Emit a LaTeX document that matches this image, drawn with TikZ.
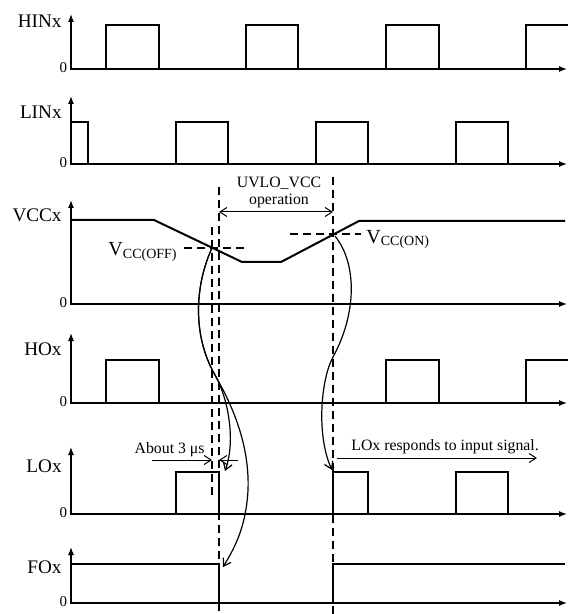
\documentclass[tikz,border=0pt]{standalone}
\usepackage{fontspec}
\setmainfont{Liberation Serif}
\usetikzlibrary{arrows.meta}

\begin{document}
\begin{tikzpicture}[x=0.5pt,y=-0.5pt,
        sig/.style={line width=1pt},
        axisline/.style={line width=0.6pt,{Latex[length=4pt,width=3pt]}-{Latex[length=4pt,width=3pt]}},
        guide/.style={line width=0.6pt,dash pattern=on 4pt off 2.5pt},
        cause/.style={line width=0.6pt,-{Straight Barb[length=3.5pt,width=4.5pt]}},
        dimarrow/.style={line width=0.5pt,-{Straight Barb[length=3.5pt,width=4.5pt]}},
        lbl/.style={anchor=east,inner sep=0pt,font=\fontsize{9.6}{11}\selectfont},
        zero/.style={anchor=east,inner sep=0pt,font=\fontsize{7.5}{9}\selectfont},
        note/.style={inner sep=0pt,font=\fontsize{7.9}{9}\selectfont}]
            \useasboundingbox (0,0) rectangle (571,614);

            % axes
            \draw[axisline] (71,14) |- (567,69);
            \draw[axisline] (71,96) |- (567,164);
            \draw[axisline] (71,200) |- (567,304);
            \draw[axisline] (71,333) |- (567,403);
            \draw[axisline] (71,447) |- (567,514);
            \draw[axisline] (71,547) |- (567,603);

            \node[lbl] (hin) at (62,21) {HINx};
            \node[lbl] (lin) at (62,112) {LINx};
            \node[lbl] (vcc) at (62,215) {VCCx};
            \node[lbl] (ho) at (62,349) {HOx};
            \node[lbl] (lo) at (62,466) {LOx};
            \node[lbl] (fo) at (62,567) {FOx};

            \node[zero] (hin0) at (67.5,68) {0};
            \node[zero] (lin0) at (67.5,163) {0};
            \node[zero] (vcc0) at (67.5,303) {0};
            \node[zero] (ho0) at (67.5,402) {0};
            \node[zero] (lo0) at (67.5,513) {0};
            \node[zero] (fo0) at (67.5,602) {0};

            % waveforms
            \draw[sig] (71,69) -| (106,25) -| (159,69) -| (246,25) -| (298,69) -| (386,25) -| (439,69) -| (526,25) -- (568,25);
            \draw[sig] (71,122) -| (88,164) -| (176,122) -| (228,164) -| (316,122) -| (368,164) -| (456,122) -| (508,164) -- (558,164);
            \draw[sig] (71,220) -- (154,220) -- (242,262) -- (281,262) -- (359,221) -- (565,221);
            \draw[sig] (71,403) -| (106,360) -| (159,403) -| (386,360) -| (439,403) -| (526,360) -- (568,360);
            \draw[sig] (71,514) -| (176,472) -| (219,514) -| (333,472) -| (368,514) -| (456,472) -| (508,514) -- (558,514);
            \draw[sig] (71,564) -| (219,603) -| (333,564) -- (565,564);

            % UVLO window
            \draw[guide] (219,187) -- (219,614);
            \draw[guide] (333,177) -- (333,614);
            \draw[guide] (212,227) -- (212,497);
            \draw[guide] (184,248) -- (245,248);
            \draw[guide] (290,234) -- (361,234);

            \coordinate (uvloL) at (219,212);
            \coordinate (uvloR) at (333,212);
            \draw[dimarrow,{Straight Barb[length=3.5pt,width=4.5pt]}-{Straight Barb[length=3.5pt,width=4.5pt]}] (uvloL) -- (uvloR);
            \node[note,anchor=base] (uvlo) at (279,188) {UVLO\_VCC};
            \node[note,anchor=base] (oper) at (279,205) {operation};

            \node[anchor=base east,inner sep=0pt,font=\fontsize{10}{12}\selectfont] (voff) at (178,256) {V\textsubscript{CC(OFF)}};
            \node[anchor=base west,inner sep=0pt,font=\fontsize{10}{12}\selectfont] (von) at (366,243) {V\textsubscript{CC(ON)}};

            % cause and effect
            \coordinate (offPt) at (212,248);
            \coordinate (onPt) at (335,236);
            \coordinate (loFall) at (225,471);
            \coordinate (foFall) at (223,567);
            \coordinate (loRise) at (332,470);
            \coordinate (split) at (215,375);

            \draw[cause] (offPt) .. controls (195,285) and (192,335) .. (split)
                .. controls (228,398) and (236,440) .. (loFall);
            \draw[cause] (offPt) .. controls (195,285) and (192,335) .. (split)
                .. controls (228,398) and (250,440) .. (248,490)
                .. controls (246,530) and (232,552) .. (foFall);
            \draw[cause] (onPt) .. controls (358,265) and (356,315) .. (333,357)
                .. controls (321,379) and (316,435) .. (loRise);

            % delay and response notes
            \coordinate (dlyL) at (152,460);
            \coordinate (dlyOff) at (212,460);
            \coordinate (dlyR) at (238,460);
            \coordinate (dlyA) at (219,460);
            \draw[dimarrow] (dlyL) -- (dlyOff);
            \draw[dimarrow] (dlyR) -- (dlyA);
            \node[note,anchor=base east] (about) at (205,453) {About 3 μs};

            \coordinate (respL) at (337,458);
            \coordinate (respR) at (537,458);
            \draw[dimarrow] (respL) -- (respR);
            \node[note,anchor=base west] (resp) at (351,450) {LOx responds to input signal.};
        \end{tikzpicture}
\end{document}
